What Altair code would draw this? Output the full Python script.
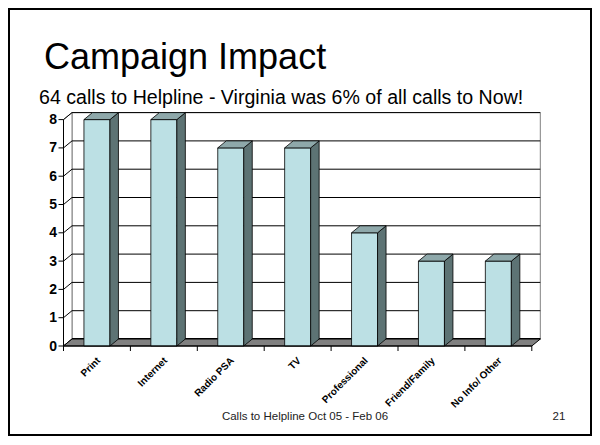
import altair as alt
import pandas as pd

# ---------------- data ----------------
categories = ["Print", "Internet", "Radio PSA", "TV", "Professional", "Friend/Family", "No Info/ Other"]
calls = [8, 8, 7, 7, 4, 3, 3]
y_ticks = [0, 1, 2, 3, 4, 5, 6, 7, 8]

title_text = "Campaign Impact"
subtitle_text = "64 calls to Helpline - Virginia was 6% of all calls to Now!"
footer_text = "Calls to Helpline Oct 05 - Feb 06"
page_text = "21"

# ---------------- layout ----------------
W, H = 584, 428
X0 = 55.5      # px where the category axis starts
UNIT_X = 66.9  # px per category
Y0 = 338.0     # px of value 0
UNIT_Y = 28.3  # px per unit value
DEPTH_X = 8.5
DEPTH_Y = 7.0
BAR_HALF = 13.0
TICK = 5.0
FONT = "Liberation Sans"

n = len(categories)
vmax = max(y_ticks)
xmin = -X0 / UNIT_X
xmax = xmin + W / UNIT_X
ymin = -(H - Y0) / UNIT_Y
ymax = ymin + H / UNIT_Y
dxu = DEPTH_X / UNIT_X
dyv = DEPTH_Y / UNIT_Y
hw = BAR_HALF / UNIT_X

xs = alt.Scale(domain=[xmin, xmax], nice=False, zero=False)
ys = alt.Scale(domain=[ymin, ymax], nice=False, zero=False)


def X(f):
    return alt.X(f, type="quantitative", scale=xs, axis=None)


def Y(f):
    return alt.Y(f, type="quantitative", scale=ys, axis=None)


FRONT = "#BCE0E4"
SIDE = "#5D7374"
TOP = "#8EA8AA"
FLOOR = "#808080"

# ---------------- tables ----------------
centers = [i + 0.5 for i in range(n)]
bars = pd.DataFrame({"name": categories, "v": calls, "c": centers})
bars["xl"] = bars["c"] - hw
bars["xr"] = bars["c"] + hw
bars["zero"] = 0.0

side_rows, top_rows = [], []
for name, v, c in zip(categories, calls, centers):
    xl, xr = c - hw, c + hw
    side_rows.append({"name": name, "x": xr, "lo": 0.0, "hi": float(v)})
    side_rows.append({"name": name, "x": xr + dxu, "lo": dyv, "hi": v + dyv})
    top_rows.append({"name": name, "y": float(v), "a": xl, "b": xr})
    top_rows.append({"name": name, "y": v + dyv, "a": xl + dxu, "b": xr + dxu})
side = pd.DataFrame(side_rows)
top = pd.DataFrame(top_rows)

grid = pd.DataFrame({"k": y_ticks, "label": [str(k) for k in y_ticks]})
grid["kb"] = grid["k"] + dyv
grid["x0"] = 0.0
grid["x1"] = dxu
grid["x2"] = n + dxu
grid["tx"] = -TICK / UNIT_X
grid["w"] = [2.0 if k == 0 else 1.0 for k in y_ticks]

xt = pd.DataFrame({"u": [float(i) for i in range(n + 1)]})
xt["y0"] = 0.0
xt["y1"] = -TICK / UNIT_Y

wall = pd.DataFrame({"x": [dxu], "x2": [n + dxu], "y": [dyv], "y2": [vmax + dyv]})
lwall = pd.DataFrame({"x": [0.0, dxu], "lo": [0.0, dyv], "hi": [float(vmax), vmax + dyv]})
floor = pd.DataFrame({"y": [0.0, dyv], "a": [0.0, dxu], "b": [float(n), n + dxu]})
axes_df = pd.DataFrame({"x": [0.0], "xe": [float(n)], "y": [0.0], "ye": [float(vmax)]})
one = pd.DataFrame({"a": [0]})

# ---------------- layers ----------------
frame = alt.Chart(one).mark_rect(fillOpacity=0, stroke="black", strokeWidth=2).encode(
    x=alt.value(1), x2=alt.value(W - 1), y=alt.value(1), y2=alt.value(H - 1))

back = alt.Chart(wall).mark_rect(fill="white", stroke=FLOOR, strokeWidth=1).encode(
    x=X("x"), x2="x2", y=Y("y"), y2="y2")

left = alt.Chart(lwall).mark_area(fill="white", stroke=FLOOR, strokeWidth=1, orient="vertical").encode(
    x=X("x"), y=Y("lo"), y2="hi")

grid_back = alt.Chart(grid).mark_rule(color="black").encode(
    x=X("x1"), x2="x2", y=Y("kb"), strokeWidth=alt.StrokeWidth("w:Q", scale=None))

grid_slant = alt.Chart(grid).mark_rule(color="black", strokeWidth=1).encode(
    x=X("x0"), x2="x1", y=Y("k"), y2="kb")

floor_l = alt.Chart(floor).mark_area(fill=FLOOR, stroke="black", strokeWidth=1, orient="horizontal").encode(
    y=Y("y"), x=X("a"), x2="b")

front = alt.Chart(bars).mark_rect(fill=FRONT, stroke="black", strokeWidth=0.8).encode(
    x=X("xl"), x2="xr", y=Y("zero"), y2="v")

side_l = alt.Chart(side).mark_area(fill=SIDE, stroke="black", strokeWidth=0.8, orient="vertical").encode(
    x=X("x"), y=Y("lo"), y2="hi", detail="name:N")

top_l = alt.Chart(top).mark_area(fill=TOP, stroke="black", strokeWidth=0.8, orient="horizontal").encode(
    y=Y("y"), x=X("a"), x2="b", detail="name:N")

yaxis_line = alt.Chart(axes_df).mark_rule(color="black", strokeWidth=1).encode(
    x=X("x"), y=Y("y"), y2="ye")

xaxis_line = alt.Chart(axes_df).mark_rule(color="black", strokeWidth=1).encode(
    x=X("x"), x2="xe", y=Y("y"))

yticks = alt.Chart(grid).mark_rule(color="black", strokeWidth=1).encode(
    x=X("tx"), x2="x0", y=Y("k"))

ylabels = alt.Chart(grid).mark_text(
    align="right", baseline="middle", dx=-6.5, dy=0.5,
    font=FONT, fontSize=14, fontWeight="bold", color="black").encode(
    x=X("x0"), y=Y("k"), text="label:N")

xticks = alt.Chart(xt).mark_rule(color="black", strokeWidth=1).encode(
    x=X("u"), y=Y("y0"), y2="y1")

xlabels = alt.Chart(bars).mark_text(
    angle=315, align="right", baseline="middle", dx=-8, dy=10.5,
    font=FONT, fontSize=10, fontWeight="bold", color="black").encode(
    x=X("c"), y=Y("zero"), text="name:N")

title = alt.Chart(one).mark_text(text=title_text, align="left", baseline="alphabetic",
                                  font=FONT, fontSize=36, color="black").encode(
    x=alt.value(36), y=alt.value(61))
subtitle = alt.Chart(one).mark_text(text=subtitle_text, align="left", baseline="alphabetic",
                                     font=FONT, fontSize=19.6, color="black").encode(
    x=alt.value(31), y=alt.value(96))
footer = alt.Chart(one).mark_text(text=footer_text, align="center", baseline="alphabetic",
                                   font=FONT, fontSize=11.5, color="#222222").encode(
    x=alt.value(297), y=alt.value(412))
page = alt.Chart(one).mark_text(text=page_text, align="center", baseline="alphabetic",
                                 font=FONT, fontSize=11.5, color="#222222").encode(
    x=alt.value(551), y=alt.value(412))

chart = alt.layer(
    frame, back, left, grid_back, grid_slant, floor_l, front, side_l, top_l,
    yaxis_line, xaxis_line, yticks, ylabels, xticks, xlabels, title, subtitle, footer, page
).properties(
    width=W, height=H, padding=0,
    autosize=alt.AutoSizeParams(type="none"),
    background="white",
).configure_view(stroke=None)

chart.save("out.html", embed_options={"renderer": "svg", "actions": False})
